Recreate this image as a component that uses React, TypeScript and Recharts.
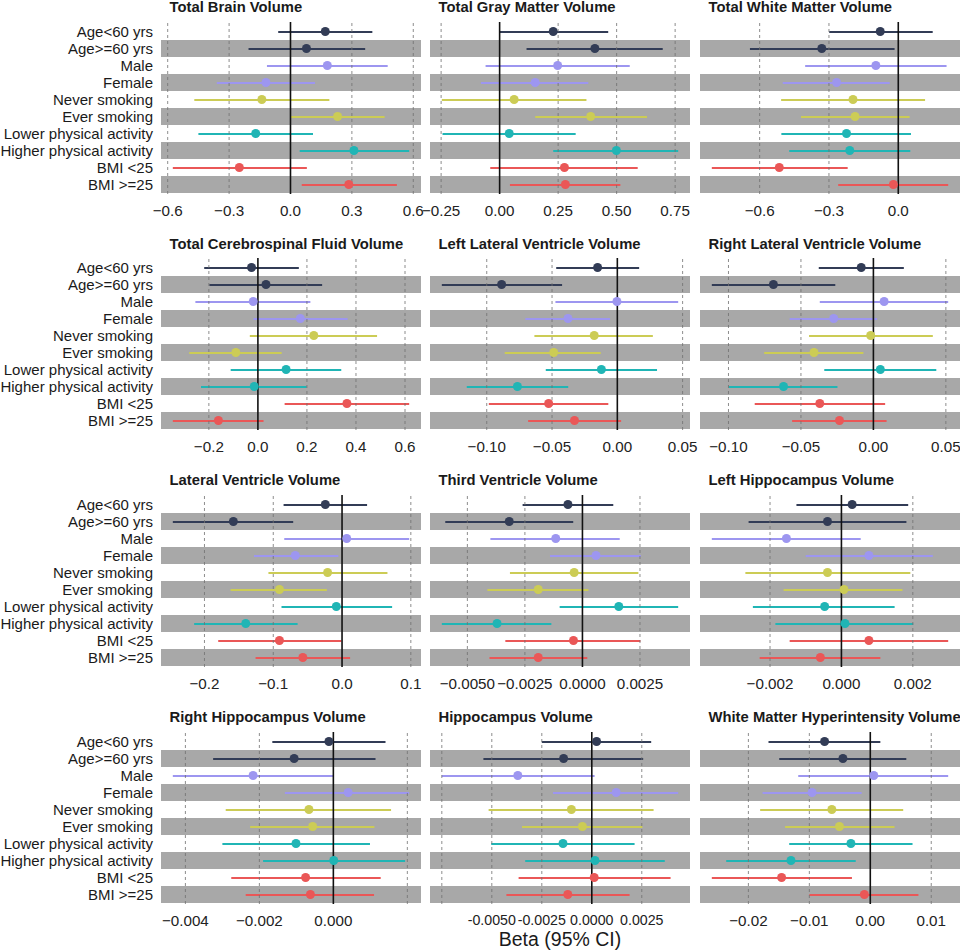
import { ComposedChart, Bar, Line, XAxis, YAxis, ReferenceArea, ReferenceLine, Cell } from 'recharts';

const labels = [
  'Age<60 yrs', 'Age>=60 yrs', 'Male', 'Female', 'Never smoking', 'Ever smoking',
  'Lower physical activity', 'Higher physical activity', 'BMI <25', 'BMI >=25',
];
const groupColors = [
  '#323c56', '#323c56', '#9d96f0', '#9d96f0', '#cccc55', '#cccc55',
  '#20b5b5', '#20b5b5', '#ea5757', '#ea5757',
];
// every second subgroup gets a grey band
const shadedLabels = labels.filter((_, i) => i % 2 === 1);

// [beta, lower 95% CI, upper 95% CI] per subgroup
const totalBrain = [[0.17, -0.06, 0.40], [0.078, -0.205, 0.365], [0.18, -0.115, 0.475], [-0.12, -0.36, 0.12], [-0.14, -0.47, 0.19], [0.23, 0.0, 0.46], [-0.17, -0.45, 0.11], [0.31, 0.045, 0.58], [-0.25, -0.575, 0.08], [0.285, 0.055, 0.52]];
const totalGray = [[0.229, 0.0, 0.464], [0.407, 0.115, 0.697], [0.248, -0.06, 0.556], [0.152, -0.08, 0.379], [0.062, -0.247, 0.371], [0.389, 0.152, 0.63], [0.041, -0.244, 0.325], [0.499, 0.229, 0.763], [0.277, -0.04, 0.59], [0.281, 0.044, 0.516]];
const totalWhite = [[-0.078, -0.299, 0.149], [-0.331, -0.642, -0.016], [-0.097, -0.403, 0.209], [-0.267, -0.5, -0.037], [-0.196, -0.507, 0.116], [-0.187, -0.421, 0.049], [-0.224, -0.506, 0.055], [-0.21, -0.472, 0.052], [-0.515, -0.807, -0.219], [-0.021, -0.26, 0.216]];
const csf = [[-0.026, -0.219, 0.167], [0.033, -0.198, 0.262], [-0.019, -0.255, 0.214], [0.173, -0.018, 0.366], [0.228, -0.033, 0.486], [-0.09, -0.28, 0.097], [0.115, -0.111, 0.34], [-0.015, -0.232, 0.199], [0.363, 0.109, 0.617], [-0.161, -0.347, 0.023]];
const leftLV = [[-0.0151, -0.0468, 0.0167], [-0.0886, -0.1344, -0.0423], [-0.0003, -0.0474, 0.0466], [-0.0378, -0.0704, -0.0056], [-0.0177, -0.0635, 0.0272], [-0.0487, -0.0862, -0.0127], [-0.0122, -0.0548, 0.0304], [-0.0765, -0.1153, -0.0376], [-0.0526, -0.0984, -0.0069], [-0.0328, -0.0683, 0.0029]];
const rightLV = [[-0.0084, -0.0377, 0.021], [-0.069, -0.1115, -0.0263], [0.0074, -0.037, 0.0516], [-0.0274, -0.0578, 0.0026], [-0.0019, -0.0444, 0.041], [-0.041, -0.0754, -0.0069], [0.0048, -0.0339, 0.0434], [-0.062, -0.0998, -0.0248], [-0.037, -0.0819, 0.0081], [-0.0234, -0.0561, 0.0091]];
const lateralV = [[-0.0243, -0.085, 0.0364], [-0.158, -0.246, -0.071], [0.0068, -0.084, 0.0976], [-0.068, -0.128, -0.0053], [-0.021, -0.107, 0.066], [-0.091, -0.162, -0.022], [-0.0083, -0.088, 0.0728], [-0.14, -0.215, -0.0646], [-0.091, -0.18, -0.001], [-0.057, -0.1257, 0.0117]];
const thirdV = [[-0.00063, -0.0026, 0.00134], [-0.00318, -0.00596, -0.0004], [-0.00116, -0.004, 0.00162], [0.00059, -0.00141, 0.00254], [-0.00036, -0.00315, 0.00243], [-0.00192, -0.00413, 0.00026], [0.00158, -0.00099, 0.00416], [-0.00371, -0.00611, -0.00135], [-0.00039, -0.00335, 0.00252], [-0.00192, -0.00404, 0.00021]];
const leftHippo = [[0.0003, -0.00126, 0.00187], [-0.00039, -0.0026, 0.00182], [-0.00154, -0.00363, 0.00054], [0.00077, -0.001, 0.00256], [-0.00039, -0.00269, 0.00193], [0.00007, -0.00162, 0.00171], [-0.00047, -0.00248, 0.00149], [0.0001, -0.00185, 0.00201], [0.00077, -0.00145, 0.00299], [-0.00059, -0.00229, 0.00109]];
const rightHippo = [[-0.00012, -0.00165, 0.00141], [-0.00106, -0.00325, 0.00114], [-0.00217, -0.00434, 0.0], [0.0004, -0.00131, 0.00205], [-0.00066, -0.00291, 0.00156], [-0.00056, -0.00225, 0.00111], [-0.00101, -0.003, 0.00099], [0.00001, -0.0019, 0.00194], [-0.00075, -0.00276, 0.00128], [-0.00062, -0.00237, 0.0011]];
const hippo = [[0.00024, -0.0025, 0.00297], [-0.00141, -0.00542, 0.00257], [-0.0037, -0.0075, 0.00014], [0.00122, -0.00194, 0.00432], [-0.00102, -0.00516, 0.00309], [-0.00047, -0.00349, 0.00253], [-0.00144, -0.00503, 0.00214], [0.00016, -0.00333, 0.00365], [0.00012, -0.00366, 0.00394], [-0.0012, -0.00427, 0.00189]];
const wmh = [[-0.0075, -0.0167, 0.00165], [-0.00449, -0.01494, 0.00591], [0.00057, -0.01182, 0.01278], [-0.00955, -0.01767, -0.00142], [-0.00631, -0.01807, 0.0054], [-0.00506, -0.01398, 0.00398], [-0.00318, -0.0133, 0.00693], [-0.01301, -0.02364, -0.00239], [-0.01455, -0.026, -0.00301], [-0.00097, -0.01, 0.0079]];

const panels = [
  { title: 'Total Brain Volume', rows: totalBrain, ticks: [-0.6, -0.3, 0, 0.3, 0.6], tickLabels: ['−0.6', '−0.3', '0.0', '0.3', '0.6'] },
  { title: 'Total Gray Matter Volume', rows: totalGray, ticks: [-0.25, 0, 0.25, 0.5, 0.75], tickLabels: ['−0.25', '0.00', '0.25', '0.50', '0.75'] },
  { title: 'Total White Matter Volume', rows: totalWhite, ticks: [-0.6, -0.3, 0], tickLabels: ['−0.6', '−0.3', '0.0'] },
  { title: 'Total Cerebrospinal Fluid Volume', rows: csf, ticks: [-0.2, 0, 0.2, 0.4, 0.6], tickLabels: ['−0.2', '0.0', '0.2', '0.4', '0.6'] },
  { title: 'Left Lateral Ventricle Volume', rows: leftLV, ticks: [-0.1, -0.05, 0, 0.05], tickLabels: ['−0.10', '−0.05', '0.00', '0.05'] },
  { title: 'Right Lateral Ventricle Volume', rows: rightLV, ticks: [-0.1, -0.05, 0, 0.05], tickLabels: ['−0.10', '−0.05', '0.00', '0.05'] },
  { title: 'Lateral Ventricle Volume', rows: lateralV, ticks: [-0.2, -0.1, 0, 0.1], tickLabels: ['−0.2', '−0.1', '0.0', '0.1'] },
  { title: 'Third Ventricle Volume', rows: thirdV, ticks: [-0.005, -0.0025, 0, 0.0025], tickLabels: ['−0.0050', '−0.0025', '0.0000', '0.0025'] },
  { title: 'Left Hippocampus Volume', rows: leftHippo, ticks: [-0.002, 0, 0.002], tickLabels: ['−0.002', '0.000', '0.002'] },
  { title: 'Right Hippocampus Volume', rows: rightHippo, ticks: [-0.004, -0.002, 0, 0.002], tickLabels: ['−0.004', '−0.002', '0.000', ''] },
  { title: 'Hippocampus Volume', rows: hippo, ticks: [-0.0075, -0.005, -0.0025, 0, 0.0025], tickLabels: ['', '-0.0050', '-0.0025', '0.0000', '0.0025'], tickFont: 14.2 },
  { title: 'White Matter Hyperintensity Volume', rows: wmh, ticks: [-0.02, -0.01, 0, 0.01], tickLabels: ['−0.02', '−0.01', '0.00', '0.01'] },
];

const FONT = '"Liberation Sans", Arial, Helvetica, sans-serif';
const colLeft = [161, 430, 700];
const plotW = 260;
const rowTop = [21.5, 258.2, 494.8, 731.5];
const plotH = 172;
const labelW = 161;
const side = 30; // room so edge tick labels are not clipped

// ggplot-style 5% expansion of the data range
function expandedDomain(rows: number[][]): [number, number] {
  const lo = Math.min(...rows.map(r => r[1]));
  const hi = Math.max(...rows.map(r => r[2]));
  const pad = (hi - lo) * 0.05;
  return [lo - pad, hi + pad];
}

function ForestPanel({ panel, showLabels }: { panel: typeof panels[number]; showLabels: boolean }) {
  const data = labels.map((label, i) => ({
    label,
    beta: panel.rows[i][0],
    range: [panel.rows[i][1], panel.rows[i][2]],
    color: groupColors[i],
  }));
  const domain = expandedDomain(panel.rows);
  const yw = showLabels ? labelW : 0;

  return (
    <ComposedChart
      layout="vertical"
      width={plotW + yw + side * 2}
      height={plotH + 30}
      data={data}
      margin={{ top: 0, right: side, bottom: 0, left: side }}
    >
      <XAxis
        type="number"
        domain={domain}
        allowDataOverflow
        ticks={panel.ticks}
        interval={0}
        tickFormatter={(v: number) => panel.tickLabels[panel.ticks.indexOf(v)] ?? ''}
        axisLine={false}
        tickLine={false}
        tickMargin={5}
        height={30}
        tick={{ fontSize: panel.tickFont ?? 15.2, fill: '#222', fontFamily: FONT }}
      />
      <YAxis
        type="category"
        dataKey="label"
        width={yw}
        hide={!showLabels}
        interval={0}
        axisLine={false}
        tickLine={false}
        padding={{ top: 1, bottom: 1 }}
        tick={{ fontSize: 15, fill: '#1a1a1a', fontFamily: FONT }}
      />
      {shadedLabels.map(l => (
        <ReferenceArea key={l} y1={l} y2={l} fill="#a8a8a8" fillOpacity={1} stroke="none" />
      ))}
      {panel.ticks.filter(t => t !== 0).map(t => (
        <ReferenceLine key={t} x={t} stroke="#707070" strokeWidth={0.8} strokeDasharray="3 3" />
      ))}
      <Bar dataKey="range" barSize={2} isAnimationActive={false}>
        {data.map(d => <Cell key={d.label} fill={d.color} />)}
      </Bar>
      <ReferenceLine x={0} stroke="#111" strokeWidth={1.6} />
      <Line
        dataKey="beta"
        stroke="none"
        isAnimationActive={false}
        activeDot={false}
        dot={(p: any) => <circle key={`dot-${p.index}`} cx={p.cx} cy={p.cy} r={4.5} fill={p.payload.color} />}
      />
    </ComposedChart>
  );
}

export default function App() {
  return (
    <div style={{ position: 'absolute', left: 0, top: 0, width: 960, height: 951, background: '#fff', fontFamily: FONT, overflow: 'hidden' }}>
      {panels.map((panel, i) => {
        const r = Math.floor(i / 3);
        const c = i % 3;
        return (
          <div key={panel.title}>
            <div style={{ position: 'absolute', left: colLeft[c] - (c === 0 ? labelW : 0) - side, top: rowTop[r] }}>
              <ForestPanel panel={panel} showLabels={c === 0} />
            </div>
            <div
              style={{
                position: 'absolute',
                left: colLeft[c] + 8.5,
                top: rowTop[r] - 14.5 - 7,
                lineHeight: '14px',
                fontSize: 14.8,
                fontWeight: 'bold',
                color: '#1a1a1a',
                whiteSpace: 'nowrap',
              }}
            >
              {panel.title}
            </div>
          </div>
        );
      })}
      <div
        style={{
          position: 'absolute',
          left: 460,
          width: 200,
          top: 927,
          lineHeight: '24px',
          textAlign: 'center',
          fontSize: 19.5,
          color: '#1a1a1a',
        }}
      >
        Beta (95% CI)
      </div>
    </div>
  );
}
